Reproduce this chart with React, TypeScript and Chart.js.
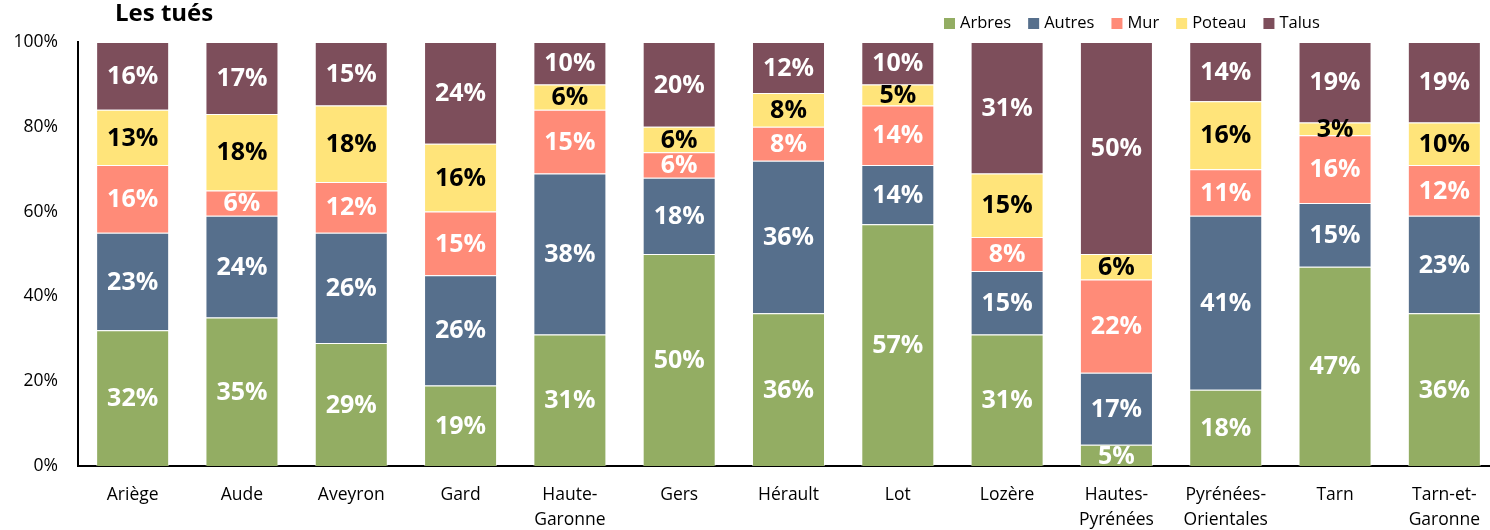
import React, { useEffect, useRef } from "react";
import { Chart, registerables } from "chart.js";

Chart.register(...registerables);

const categories: (string | string[])[] = [
  "Ariège",
  "Aude",
  "Aveyron",
  "Gard",
  ["Haute-", "Garonne"],
  "Gers",
  "Hérault",
  "Lot",
  "Lozère",
  ["Hautes-", "Pyrénées"],
  ["Pyrénées-", "Orientales"],
  "Tarn",
  ["Tarn-et-", "Garonne"],
];

const arbres = [32, 35, 29, 19, 31, 50, 36, 57, 31, 5, 18, 47, 36];
const autres = [23, 24, 26, 26, 38, 18, 36, 14, 15, 17, 41, 15, 23];
const mur = [16, 6, 12, 15, 15, 6, 8, 14, 8, 22, 11, 16, 12];
const poteau = [13, 18, 18, 16, 6, 6, 8, 5, 15, 6, 16, 3, 10];
const talus = [16, 17, 15, 24, 10, 20, 12, 10, 31, 50, 14, 19, 19];

const seriesNames = ["Arbres", "Autres", "Mur", "Poteau", "Talus"];
const seriesValues = [arbres, autres, mur, poteau, talus];
const seriesColors = ["#93AD63", "#566F8C", "#FF8B78", "#FFE47A", "#7D4E5B"];
const labelColors = ["#FFFFFF", "#FFFFFF", "#FFFFFF", "#000000", "#FFFFFF"];

const yTicks = [0, 20, 40, 60, 80, 100];
const titleText = "Les tués";

const FONT = "'Open Sans', 'DejaVu Sans', sans-serif";

const overlayPlugin = {
  id: "overlay",
  afterDatasetsDraw(chart: any) {
    const ctx = chart.ctx;
    const area = chart.chartArea;
    ctx.save();
    ctx.beginPath();
    ctx.rect(area.left, area.top, area.right - area.left, area.bottom - area.top);
    ctx.clip();
    ctx.font = `bold 25px ${FONT}`;
    ctx.textAlign = "center";
    ctx.textBaseline = "middle";
    chart.data.datasets.forEach((ds: any, di: number) => {
      const meta = chart.getDatasetMeta(di);
      meta.data.forEach((el: any, i: number) => {
        const v = ds.data[i];
        if (!v) return;
        const cy = (el.y + el.base) / 2;
        ctx.fillStyle = labelColors[di];
        ctx.fillText(`${v}%`, el.x, cy + 1);
      });
    });
    ctx.restore();
  },
  afterDraw(chart: any) {
    const ctx = chart.ctx;
    ctx.save();
    // title
    ctx.font = `bold 24px ${FONT}`;
    ctx.fillStyle = "#000";
    ctx.textAlign = "left";
    ctx.textBaseline = "middle";
    ctx.fillText(titleText, 115, 14);
    // legend
    ctx.font = `16.5px ${FONT}`;
    let x = 944;
    const y = 23;
    chart.data.datasets.forEach((ds: any) => {
      ctx.fillStyle = ds.backgroundColor;
      ctx.fillRect(x, y - 5, 11, 11);
      x += 16;
      ctx.fillStyle = "#000";
      ctx.fillText(ds.label, x, y);
      x += ctx.measureText(ds.label).width + 17;
    });
    ctx.restore();
  },
};

export default function App() {
  const ref = useRef<HTMLCanvasElement>(null);
  useEffect(() => {
    if (!ref.current) return;
    const chart = new Chart(ref.current, {
      type: "bar",
      data: {
        labels: categories,
        datasets: seriesNames.map((name, i) => ({
          label: name,
          data: seriesValues[i],
          backgroundColor: seriesColors[i],
          borderColor: "rgba(255,255,255,0.5)",
          borderWidth: 1,
          barPercentage: 0.668,
          categoryPercentage: 1,
        })),
      },
      options: {
        animation: false,
        responsive: false,
        maintainAspectRatio: false,
        layout: { padding: { top: 42, right: 1, left: 0, bottom: 0 } },
        plugins: {
          legend: { display: false },
          title: { display: false },
          tooltip: { enabled: false },
        },
        scales: {
          x: {
            stacked: true,
            grid: { display: false, drawTicks: false },
            border: { display: true, color: "#000", width: 2 },
            ticks: {
              color: "#000",
              padding: 17,
              maxRotation: 0,
              autoSkip: false,
              font: { family: FONT, size: 17.5, lineHeight: "25px" },
            },
            afterFit: (s: any) => {
              s.height = 64;
            },
          },
          y: {
            stacked: true,
            min: 0,
            max: 100,
            grid: { display: false, drawTicks: false },
            border: { display: true, color: "#000", width: 2 },
            ticks: {
              color: "#000",
              padding: 20,
              stepSize: 20,
              font: { family: FONT, size: 17.5 },
              callback: (v: any) => (yTicks.includes(v) ? `${v}%` : ""),
            },
            afterFit: (s: any) => {
              s.width = 78;
            },
          },
        },
      },
      plugins: [overlayPlugin],
    });
    return () => chart.destroy();
  }, []);
  return (
    <div
      style={{
        position: "fixed",
        left: 0,
        top: 0,
        width: 1490,
        height: 530,
        overflow: "hidden",
        background: "#fff",
      }}
    >
      <canvas ref={ref} width={1500} height={530} style={{ width: 1500, height: 530 }} />
    </div>
  );
}
